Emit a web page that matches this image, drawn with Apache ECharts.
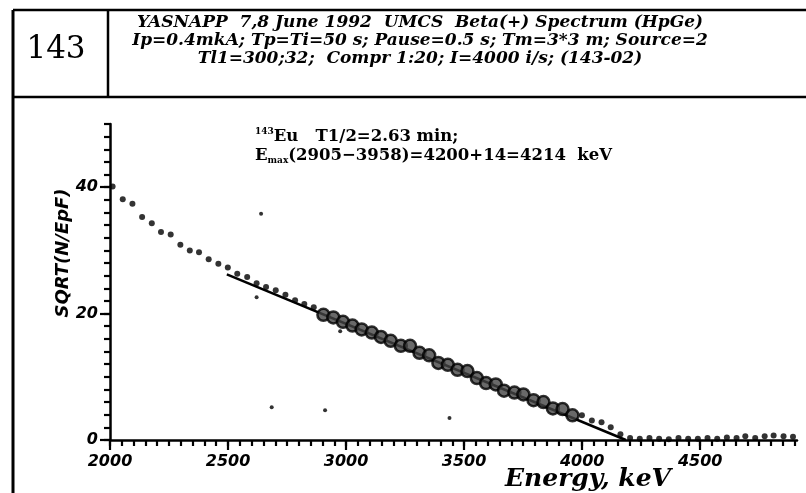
<!DOCTYPE html>
<html>
<head>
<meta charset="utf-8">
<title>YASNAPP 143 - Beta(+) Spectrum</title>
<script src="https://cdn.jsdelivr.net/npm/echarts@6/dist/echarts.min.js"></script>
<style>
  html, body { margin: 0; padding: 0; background: #fff; }
  #chart { width: 806px; height: 493px; }
</style>
</head>
<body>
<div id="chart"></div>
<script>
// small dots (outside the fit range)
var dotE = [2011, 2054, 2095, 2136, 2177, 2216, 2257, 2298, 2338, 2377, 2418, 2459, 2499, 2539,
            2581, 2621, 2661, 2702, 2743, 2784, 2823, 2863,
            3999, 4041, 4082, 4121, 4162, 4203, 4244, 4285, 4326, 4367, 4408, 4449, 4490,
            4531, 4572, 4613, 4654, 4691, 4733, 4773, 4811, 4853, 4893, 4931];
var dotY = [40.1, 38.1, 37.4, 35.3, 34.3, 32.9, 32.5, 30.9, 30.0, 29.7, 28.6, 27.9, 27.3, 26.3,
            25.8, 24.8, 24.2, 23.7, 23.0, 22.1, 21.5, 21.0,
            3.9, 3.1, 2.8, 2.0, 0.9, 0.3, 0.2, 0.3, 0.2, 0.1, 0.3, 0.2, 0.2,
            0.3, 0.2, 0.4, 0.3, 0.6, 0.3, 0.6, 0.7, 0.6, 0.5, 1.1];
// circled points, fit range 2905-3958
var fitE = [2904, 2946, 2987, 3027, 3066, 3109, 3148, 3189, 3232, 3271, 3311, 3352, 3391, 3431,
            3472, 3514, 3554, 3593, 3634, 3669, 3713, 3751, 3794, 3836, 3876, 3917, 3959];
var fitY = [19.8, 19.4, 18.7, 18.1, 17.5, 17.0, 16.3, 15.7, 14.9, 14.9, 13.8, 13.4, 12.2, 11.9,
            11.1, 10.9, 9.8, 9.0, 8.8, 7.8, 7.5, 7.2, 6.3, 6.0, 5.0, 4.9, 3.9];
// straight-line fit
var lineE = [2495, 4185];
var lineY = [26.2, 0];
// stray marks on the sheet
var strayE = [2621, 2975, 2685, 2911, 3438, 2640];
var strayY = [22.6, 17.2, 5.2, 4.7, 3.5, 35.8];

var xTickLabels = [2000, 2500, 3000, 3500, 4000, 4500];
var yTickLabels = [0, 20, 40];
var xMinor = [];
for (var v = 2000; v <= 4900; v += 50) xMinor.push(v);
var yMinor = [];
for (var w = 0; w <= 50; w += 2) yMinor.push(w);

function pairs(a, b) {
    return a.map(function (x, i) { return [x, b[i]]; });
}

var black = '#000';
var labelFont = {
    color: black, fontFamily: 'DejaVu Sans', fontWeight: 'bold', fontStyle: 'italic', fontSize: 16,
    formatter: function (val) { return String(val); }
};

var dom = document.getElementById('chart');
var myChart = echarts.init(dom, null, { renderer: 'canvas' });

var option = {
    backgroundColor: '#fff',
    animation: false,
    grid: { left: 110, right: 9, top: 124, bottom: 53, containLabel: false },
    xAxis: [
        {
            type: 'value', min: 2000, max: 4910, position: 'bottom',
            axisLine: { lineStyle: { color: black, width: 2.5 } },
            axisTick: { customValues: xMinor, length: 6, lineStyle: { color: black, width: 2.2 } },
            axisLabel: { show: false },
            splitLine: { show: false }
        },
        {
            type: 'value', min: 2000, max: 4910, position: 'bottom',
            axisLine: { show: false },
            axisTick: { customValues: xTickLabels, length: 10, lineStyle: { color: black, width: 2.2 } },
            axisLabel: Object.assign({ customValues: xTickLabels, margin: 14 }, labelFont),
            splitLine: { show: false }
        }
    ],
    yAxis: [
        {
            type: 'value', min: 0, max: 50, position: 'left',
            axisLine: { show: true, lineStyle: { color: black, width: 2.5 } },
            axisTick: { show: true, customValues: yMinor, length: 6, lineStyle: { color: black, width: 2.2 } },
            axisLabel: { show: false },
            splitLine: { show: false }
        },
        {
            type: 'value', min: 0, max: 50, position: 'left',
            axisLine: { show: false },
            axisTick: { show: true, customValues: yTickLabels, length: 10, lineStyle: { color: black, width: 2.2 } },
            axisLabel: Object.assign({ customValues: yTickLabels, margin: 12 }, labelFont),
            splitLine: { show: false }
        }
    ],
    graphic: [
        // header frame
        { type: 'line', shape: { x1: 13, y1: 10, x2: 806, y2: 10 }, style: { stroke: black, lineWidth: 2.5 } },
        { type: 'line', shape: { x1: 13, y1: 97, x2: 806, y2: 97 }, style: { stroke: black, lineWidth: 2.5 } },
        { type: 'line', shape: { x1: 13, y1: 10, x2: 13, y2: 493 }, style: { stroke: black, lineWidth: 3 } },
        { type: 'line', shape: { x1: 108, y1: 10, x2: 108, y2: 97 }, style: { stroke: black, lineWidth: 2.5 } },
        {
            type: 'text', x: 56, y: 50,
            style: { text: '143', fill: black, font: '31px "DejaVu Serif"', align: 'center', verticalAlign: 'middle' }
        },
        {
            type: 'text', x: 420, y: 41,
            style: {
                text: 'YASNAPP  7,8 June 1992  UMCS  Beta(+) Spectrum (HpGe)\n' +
                      'Ip=0.4mkA; Tp=Ti=50 s; Pause=0.5 s; Tm=3*3 m; Source=2\n' +
                      'Tl1=300;32;  Compr 1:20; I=4000 i/s; (143-02)',
                fill: black, font: 'italic bold 17px "DejaVu Serif"', lineHeight: 18,
                align: 'center', verticalAlign: 'middle'
            }
        },
        // annotation
        {
            type: 'text', x: 255, y: 146,
            style: {
                text: '{sup|143}{b|Eu   T1/2=2.63 min;}\n{b|E}{sub|max}{b|(2905\u22123958)=4200+14=4214  keV}',
                fill: black, verticalAlign: 'middle',
                rich: {
                    b: { font: 'bold 16.5px "DejaVu Serif"', fill: black, lineHeight: 19 },
                    sup: { font: 'bold 9px "DejaVu Serif"', fill: black, verticalAlign: 'top', lineHeight: 19, padding: [0, 0, 8, 0] },
                    sub: { font: 'bold 9px "DejaVu Serif"', fill: black, verticalAlign: 'bottom', lineHeight: 19, padding: [6, 0, 0, 0] }
                }
            }
        },
        // axis titles
        {
            type: 'text', x: 63, y: 253, rotation: Math.PI / 2,
            style: {
                text: 'SQRT(N/EpF)', fill: black, font: 'italic bold 18px "DejaVu Sans"',
                align: 'center', verticalAlign: 'middle'
            }
        },
        {
            type: 'text', x: 588, y: 479,
            style: {
                text: 'Energy, keV', fill: black, font: 'italic bold 25px "DejaVu Serif"',
                align: 'center', verticalAlign: 'middle'
            }
        }
    ],
    series: [
        {
            name: 'fit', type: 'line', data: pairs(lineE, lineY),
            showSymbol: false, lineStyle: { color: black, width: 2.5 }, z: 3
        },
        {
            name: 'points', type: 'scatter', data: pairs(dotE, dotY),
            symbolSize: 6, itemStyle: { color: black }, z: 4
        },
        {
            name: 'fit range', type: 'scatter', data: pairs(fitE, fitY),
            symbolSize: 12, itemStyle: { color: '#444', borderColor: black, borderWidth: 2.5 }, z: 5
        },
        {
            name: 'stray', type: 'scatter', data: pairs(strayE, strayY),
            symbolSize: 4, itemStyle: { color: black }, z: 4
        }
    ]
};

if (option && typeof option === 'object') {
    myChart.setOption(option, true);
}
</script>
</body>
</html>
